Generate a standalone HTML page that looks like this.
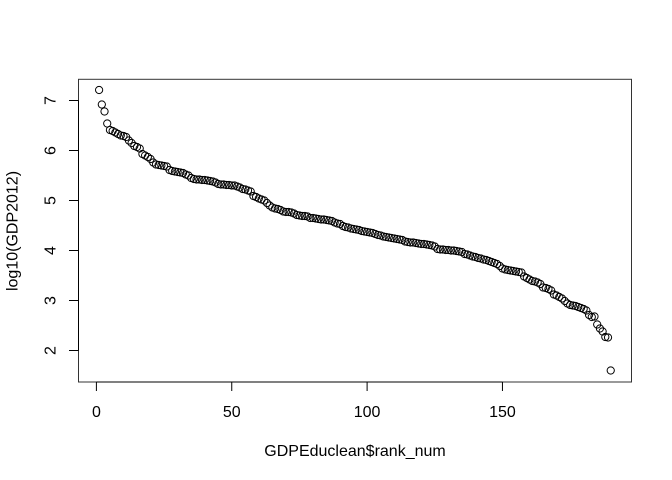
<!DOCTYPE html>
<html>
<head>
<meta charset="utf-8">
<style>
html,body{margin:0;padding:0;background:#fff;width:672px;height:480px;overflow:hidden}
svg{display:block}
text{font-family:"Liberation Sans",Arial,sans-serif;font-size:16px;fill:#000}
</style>
</head>
<body>
<svg id="chart" width="672" height="480" viewBox="0 0 672 480" xmlns="http://www.w3.org/2000/svg">
<rect width="672" height="480" fill="#fff"/>
<g id="points"></g>
<rect x="78.5" y="79.3" width="553" height="302.7" fill="none" stroke="#333" stroke-width="1"/>
<g id="x-axis"></g>
<g id="y-axis"></g>
<text x="355" y="456" text-anchor="middle">GDPEduclean$rank_num</text>
<text transform="translate(17.5,231) rotate(-90)" text-anchor="middle">log10(GDP2012)</text>
</svg>
<script>
const gdpLog = [
7.21,6.92,6.78,6.54,6.41,6.39,6.36,6.33,6.30,6.29,
6.27,6.20,6.15,6.09,6.07,6.04,5.93,5.90,5.87,5.83,
5.76,5.72,5.71,5.70,5.69,5.68,5.61,5.59,5.58,5.57,
5.56,5.55,5.52,5.50,5.45,5.43,5.42,5.42,5.41,5.41,
5.40,5.39,5.38,5.36,5.33,5.32,5.32,5.31,5.31,5.30,
5.30,5.28,5.26,5.23,5.22,5.20,5.18,5.09,5.07,5.04,
5.02,5.00,4.95,4.90,4.86,4.84,4.83,4.81,4.78,4.77,
4.77,4.76,4.74,4.71,4.70,4.69,4.69,4.68,4.65,4.65,
4.64,4.63,4.62,4.62,4.61,4.60,4.59,4.56,4.54,4.53,
4.49,4.47,4.46,4.44,4.43,4.42,4.41,4.39,4.38,4.37,
4.36,4.35,4.33,4.31,4.30,4.28,4.27,4.26,4.25,4.24,
4.23,4.22,4.21,4.18,4.17,4.16,4.16,4.15,4.14,4.13,
4.13,4.12,4.11,4.10,4.08,4.03,4.02,4.02,4.01,4.01,
4.00,4.00,3.99,3.98,3.97,3.93,3.92,3.90,3.88,3.87,
3.85,3.84,3.82,3.81,3.79,3.77,3.75,3.73,3.69,3.64,
3.62,3.61,3.60,3.59,3.58,3.57,3.56,3.48,3.45,3.42,
3.39,3.38,3.36,3.33,3.26,3.25,3.23,3.20,3.12,3.10,
3.07,3.04,2.99,2.94,2.91,2.90,2.89,2.87,2.85,2.83,
2.80,2.71,2.67,2.68,2.52,2.44,2.38,2.27,2.26,1.60
];
const xTicks = [0,50,100,150];
const yTicks = [2,3,4,5,6,7];

const NS = 'http://www.w3.org/2000/svg';
function xScale(v){ return 96.4 + v * 2.707; }
function yScale(v){ return 350.5 - (v - 2) * 50; }
function make(tag, attrs, parent){
  const el = document.createElementNS(NS, tag);
  for (const k in attrs) el.setAttribute(k, attrs[k]);
  parent.appendChild(el);
  return el;
}

const pointsGroup = document.getElementById('points');
gdpLog.forEach(function(v, i){
  const c = make('circle', {cx: xScale(i + 1), cy: yScale(v), r: 3.6, fill: 'none', stroke: '#000', 'stroke-width': 1}, pointsGroup);
  
  
});

const xAxis = document.getElementById('x-axis');
const xLine = make('line', {x1: xScale(xTicks[0]), x2: xScale(xTicks[xTicks.length - 1]), y1: 382, y2: 382, stroke: '#000', 'stroke-width': 1}, xAxis);


xTicks.forEach(function(t){
  const x = xScale(t);
  const tick = make('line', {x1: x, x2: x, y1: 382, y2: 391, stroke: '#000', 'stroke-width': 1}, xAxis);
  
  
  const label = make('text', {x: x, y: 417, 'text-anchor': 'middle'}, xAxis);
  label.textContent = t;
  
  
});

const yAxis = document.getElementById('y-axis');
const yLine = make('line', {x1: 78.5, x2: 78.5, y1: yScale(yTicks[0]), y2: yScale(yTicks[yTicks.length - 1]), stroke: '#000', 'stroke-width': 1}, yAxis);


yTicks.forEach(function(t){
  const y = yScale(t);
  const tick = make('line', {x1: 69, x2: 78.5, y1: y, y2: y, stroke: '#000', 'stroke-width': 1}, yAxis);
  
  
  const label = make('text', {transform: 'translate(55.5,' + y + ') rotate(-90)', 'text-anchor': 'middle'}, yAxis);
  label.textContent = t;
  
  
});
</script>
</body>
</html>
